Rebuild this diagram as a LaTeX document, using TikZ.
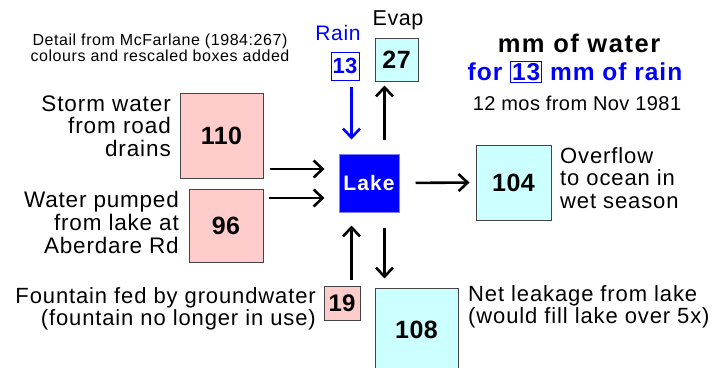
\documentclass[tikz,border=0pt]{standalone}
\usepackage{fontspec}
\setmainfont{Liberation Sans}
\usetikzlibrary{arrows.meta}
\definecolor{inpink}{HTML}{FFCCCC}
\definecolor{outcyan}{HTML}{CCFFFF}
\definecolor{boxline}{HTML}{444444}
\definecolor{rainblue}{HTML}{0000FF}
\definecolor{lakeedge}{HTML}{8080FF}
% font size, line spacing, letter spacing
\newcommand{\txtfont}[3]{\fontsize{#1}{#2}\selectfont\addfontfeature{LetterSpace=#3}}
\newcommand{\boldfont}[3]{\fontsize{#1}{#2}\selectfont\bfseries\addfontfeature{LetterSpace=#3}}
\tikzset{
  qbox/.style={draw=boxline, line width=1pt, inner sep=0pt, font=\boldfont{25}{25}{2}},
  inbox/.style={qbox, fill=inpink},
  outbox/.style={qbox, fill=outcyan},
  label/.style={inner sep=0pt, font=\txtfont{22.5}{22.5}{4}},
  flow/.style={line width=2.6pt, -{Straight Barb[length=9pt,width=17pt,line width=2.6pt]}},
  rainflow/.style={flow, draw=rainblue},
}
\begin{document}
\begin{tikzpicture}[x=1pt,y=-1pt]
\clip (0,0) rectangle (714,367);
\useasboundingbox (0,0) rectangle (714,367);
\fill[white] (0,0) rectangle (714,367);

% caption
\node[inner sep=0pt, align=center, font=\txtfont{16}{15.5}{3.5}] (cap) at (160,48)
  {Detail from McFarlane (1984:267)\\colours and rescaled boxes added};

% heading
\node[inner sep=0pt, font=\boldfont{25.5}{25}{6}] (h1) at (579,43) {mm of water};
\node[inner sep=0pt, text=rainblue, font=\boldfont{24.5}{24.5}{4}] (h2) at (575,72)
  {for {\setlength{\fboxsep}{1pt}\setlength{\fboxrule}{1pt}\fcolorbox{rainblue}{white}{13}} mm of rain};
\node[inner sep=0pt, font=\txtfont{20}{20}{2}] (h3) at (577,103) {12 mos from Nov 1981};

% lake
\node[fill=rainblue, draw=lakeedge, line width=1pt, minimum width=60pt, minimum height=58pt,
  inner sep=0pt, text=white, font=\boldfont{21}{21}{5}] (lake) at (369,183) {Lake};

% quantity boxes
\node[inbox, minimum width=83pt, minimum height=85pt] (b110) at (221.5,135.5) {110};
\node[inbox, minimum width=74pt, minimum height=73pt] (b96) at (226,225.5) {96};
\node[inbox, minimum width=36pt, minimum height=34pt, font=\boldfont{24}{24}{1}] (b19) at (342,303) {19};
\node[outbox, minimum width=43pt, minimum height=43pt] (b27) at (396.5,59.5) {27};
\node[outbox, minimum width=75pt, minimum height=75pt] (b104) at (513.5,182.5) {104};
\node[outbox, minimum width=83pt, minimum height=84pt] (b108) at (416.5,330) {108};
\node[draw=rainblue, line width=1pt, fill=white, minimum width=28pt, minimum height=28pt, inner sep=0pt,
  text=rainblue, font=\boldfont{22}{22}{1}] (r13) at (345,66) {13};

% labels
\node[label, text=rainblue, font=\txtfont{21}{21}{3}] (rainlbl) at (338,33) {Rain};
\node[label, font=\txtfont{21.5}{21.5}{3}] (evaplbl) at (398,20) {Evap};
\node[label, align=right, anchor=east] (storm) at (171,126) {Storm water\\from road\\drains};
\node[label, align=right, anchor=east, font=\txtfont{22.5}{23}{3.5}] (pump) at (179,222) {Water pumped\\from lake at\\Aberdare Rd};
\node[label, align=right, anchor=east, font=\txtfont{22}{22}{4}] (fount) at (316,309) {Fountain fed by groundwater\\(fountain no longer in use)};
\node[label, align=left, anchor=west, font=\txtfont{22}{22.5}{4}] (over) at (560,178) {Overflow\\to ocean in\\wet season};
\node[label, align=left, anchor=west, font=\txtfont{22}{22}{4}] (leak) at (468,307) {Net leakage from lake\\(would fill lake over 5x)};

% columns and rows of the connectors
\coordinate (rowA) at (0,169);
\coordinate (rowB) at (0,198);
\coordinate (colL) at (351.5,0);
\coordinate (colR) at (384.5,0);

% flows into the lake
\draw[flow, shorten <=6pt, shorten >=14pt] (b110.east |- rowA) -- (lake.west |- rowA);
\draw[flow, shorten <=5pt, shorten >=14pt] (b96.east |- rowB) -- (lake.west |- rowB);
\draw[flow, shorten <=6pt, shorten >=13pt] (b19.north -| colL) -- (lake.south -| colL);
\draw[rainflow, shorten <=6pt, shorten >=14pt] (r13.south -| colL) -- (lake.north -| colL);

% flows out of the lake
\draw[flow, shorten <=14pt, shorten >=4pt] (lake.north -| colR) -- (b27.south -| colR);
\draw[flow, shorten <=15pt, shorten >=9pt] (lake.south -| colR) -- (b108.north -| colR);
\draw[flow, shorten <=16pt, shorten >=6pt] (lake.east) -- (b104.west);
\end{tikzpicture}
\end{document}
